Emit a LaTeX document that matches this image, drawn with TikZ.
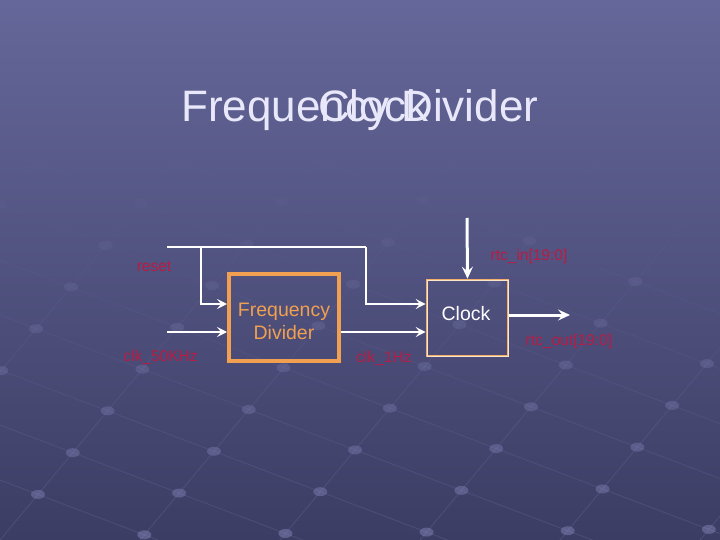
\documentclass[tikz,border=0pt]{standalone}
\usepackage{fontspec}
\setmainfont{Liberation Sans}
\usetikzlibrary{arrows.meta}
\definecolor{bgtop}{HTML}{65679A}
\definecolor{bgmid}{HTML}{4F5183}
\definecolor{bgbot}{HTML}{3C3D64}
\definecolor{fdorange}{HTML}{F0A050}
\definecolor{ckorange}{HTML}{F2AE6A}
\definecolor{ckinner}{HTML}{FBE6CC}
\definecolor{lblred}{HTML}{B81C44}
\definecolor{titlecol}{HTML}{E8E8FA}
\definecolor{gridcol}{HTML}{8A8CC0}
\tikzset{
  gridline/.style={draw=gridcol, line width=0.9pt},
  titletext/.style={text=titlecol, font=\fontsize{44}{48}\selectfont, anchor=base west, inner sep=0pt},
  lbl/.style={text=lblred, font=\fontsize{15.5}{18}\selectfont, inner sep=0pt},
  fdbox/.style={draw=fdorange, line width=4pt, minimum width=110pt, minimum height=87pt, inner sep=0pt},
  fdtext/.style={text=fdorange, font=\fontsize{19.5}{23}\selectfont, align=center, inner sep=0pt},
  ckbox/.style={draw=ckorange, line width=2.6pt, minimum width=81pt, minimum height=76pt, inner sep=0pt,
    postaction={draw=ckinner, line width=0.8pt}},
  cktext/.style={text=white, font=\fontsize{19.5}{23}\selectfont, inner sep=0pt},
  wire/.style={draw=white, line width=1.6pt},
  arr/.style={-{Stealth[length=10pt,width=10pt,inset=4pt]}},
  bus/.style={draw=white, line width=3pt},
  arrb/.style={-{Stealth[length=12pt,width=11pt,inset=4.5pt]}}
}
\begin{document}
\begin{tikzpicture}[x=1pt,y=-1pt]
\useasboundingbox (0,0) rectangle (720,540);
\shade[top color=bgtop, middle color=bgmid, bottom color=bgbot] (0,0) rectangle (720,540);
% background perspective grid (fading toward the top)
\begin{scope}
\clip (0,150) rectangle (720,540);
\foreach \a in {-420,-280,...,700} {
  \foreach \s in {0,1,...,7} {
    \pgfmathsetmacro{\ys}{540-60*\s}
    \pgfmathsetmacro{\lo}{max(0.03,0.2*(\ys-180)/360)}
    \draw[gridline, opacity=\lo] ({\a+50*\s},\ys) -- ++(50,-60);
  }
}
\foreach \b in {40,95,...,520} {
  \foreach \s in {0,1,...,5} {
    \pgfmathsetmacro{\ym}{\b+0.38*(120*\s+60)}
    \pgfmathsetmacro{\lo}{max(0.03,0.2*(\ym-180)/360)}
    \draw[gridline, opacity=\lo] ({120*\s},{\b+0.38*120*\s}) -- ++(120,45.6);
  }
}
\foreach \a in {-420,-280,...,700} {
  \foreach \b in {40,95,...,520} {
    \pgfmathsetmacro{\xx}{(540+1.2*\a-\b)/1.58}
    \pgfmathsetmacro{\yy}{\b+0.38*\xx}
    \pgfmathsetmacro{\op}{max(0,min(0.45,0.45*(\yy-160)/380))}
    \fill[gridcol, opacity=\op] (\xx,\yy) ellipse (7 and 4.5);
  }
}
\end{scope}
% title
\node[titletext] (t1) at (181,122) {Frequency Divider};
\node[titletext] (t2) at (318,122) {Clock};
% blocks
\node[fdbox] (fd) at (284,317.5) {};
\node[fdtext] (fdt) at (284,321) {Frequency\\Divider};
\node[ckbox] (ck) at (467.5,318) {};
\node[cktext] (ckt) at (466,314) {Clock};
% coordinates
\coordinate (rs) at (167,247);
\coordinate (rb) at (201,247);
\coordinate (rc) at (366,247);
\coordinate (cin) at (167,332);
\coordinate (y1) at (0,304);
\coordinate (y2) at (0,332);
\coordinate (y3) at (0,315);
\coordinate (rtcin) at (467,218);
\coordinate (rtcout) at (570,315);
% connectors
\draw[wire] (rs) -- (rc);
\draw[wire,arr] (rb) |- (fd.west |- y1);
\draw[wire,arr] (rc) |- (ck.west |- y1);
\draw[wire,arr] (cin) -- (fd.west |- y2);
\draw[wire,arr] (fd.east |- y2) -- (ck.west |- y2);
\draw[bus,arrb] (rtcin) -- (ck.north);
\draw[bus,arrb] (ck.east |- y3) -- (rtcout);
% labels
\node[lbl] (lreset) at (154,267) {reset};
\node[lbl] (l50) at (160.5,357) {clk\_50KHz};
\node[lbl] (l1) at (384,358) {clk\_1Hz};
\node[lbl] (lin) at (529,256) {rtc\_in[19:0]};
\node[lbl] (lout) at (569,341) {rtc\_out[19:0]};
\end{tikzpicture}
\end{document}
